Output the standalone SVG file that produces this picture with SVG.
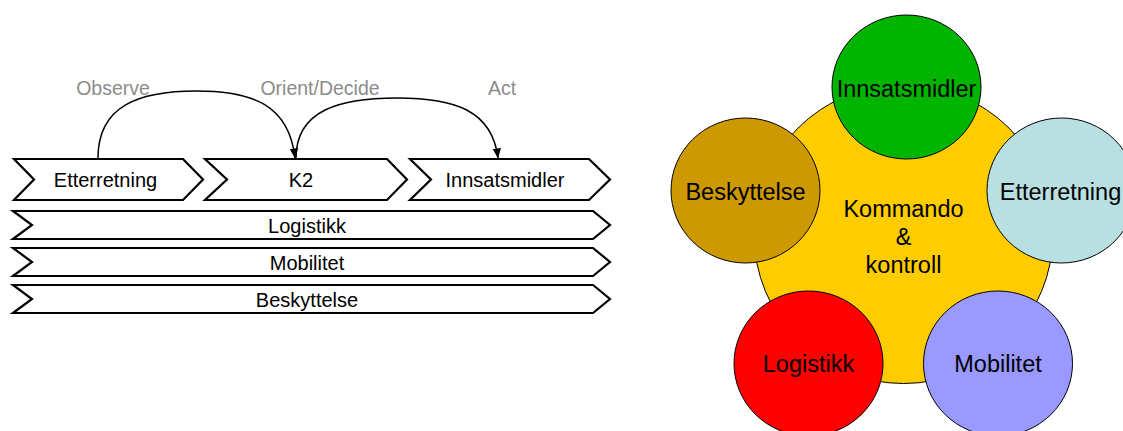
<svg xmlns="http://www.w3.org/2000/svg" width="1123" height="431" viewBox="0 0 1123 431">
  <style>
    .chev { fill: #ffffff; stroke: #000000; stroke-width: 2.2; stroke-linejoin: miter; }
    .lbl { font-family: "Liberation Sans", Arial, sans-serif; font-size: 20px; fill: #000000; text-anchor: middle; }
    .phase { font-family: "Liberation Sans", Arial, sans-serif; font-size: 19.5px; fill: #8c8c8c; text-anchor: middle; }
    .flow { fill: none; stroke: #000000; stroke-width: 1.5; }
    .disc { stroke: #000000; stroke-width: 1; }
    .ctext { font-family: "Liberation Sans", Arial, sans-serif; font-size: 23.5px; fill: #000000; text-anchor: middle; }
  </style>
  <defs>
    <marker id="arrow" viewBox="0 0 10 10" refX="9.5" refY="5" markerWidth="10" markerHeight="10" markerUnits="userSpaceOnUse" orient="auto">
      <path d="M0,0.8 L10,5 L0,9.2 Z" fill="#000000"/>
    </marker>
  </defs>

  <rect width="1123" height="431" fill="#ffffff"/>

  <!-- OODA phase labels -->
  <g id="phases">
    <text class="phase" x="113" y="94.5">Observe</text>
    <text class="phase" x="320" y="94.5">Orient/Decide</text>
    <text class="phase" x="502" y="94.5">Act</text>
  </g>

  <!-- Process chain, top row -->
  <g id="chev-etterretning">
    <polygon class="chev" points="14,159 183,159 203,179.5 183,200 14,200 34,179.5"/>
    <text class="lbl" x="105.5" y="187">Etterretning</text>
  </g>
  <g id="chev-k2">
    <polygon class="chev" points="205,159 387,159 407,179.5 387,200 205,200 227,179.5"/>
    <text class="lbl" x="301" y="187">K2</text>
  </g>
  <g id="chev-innsatsmidler">
    <polygon class="chev" points="410,159 589,159 610,179.5 589,200 410,200 431,179.5"/>
    <text class="lbl" x="505" y="187">Innsatsmidler</text>
  </g>

  <!-- Supporting functions -->
  <g id="chev-logistikk">
    <polygon class="chev" points="13,211 593,211 610,225 593,239 13,239 32,225"/>
    <text class="lbl" x="307" y="232.5">Logistikk</text>
  </g>
  <g id="chev-mobilitet">
    <polygon class="chev" points="13,248 593,248 610,262 593,276 13,276 32,262"/>
    <text class="lbl" x="307" y="269.5">Mobilitet</text>
  </g>
  <g id="chev-beskyttelse">
    <polygon class="chev" points="13,285 593,285 610,299 593,313 13,313 32,299"/>
    <text class="lbl" x="307" y="306.5">Beskyttelse</text>
  </g>

  <!-- Flow arcs between steps -->
  <g id="connectors">
    <path class="flow" marker-end="url(#arrow)" d="M98,158 C98,105 140,91 196.5,91 C253,91 289,105 295,158"/>
    <path class="flow" marker-end="url(#arrow)" d="M296,158 C296,110 340,98 397,98 C454,98 492,110 498,158"/>
  </g>

  <!-- Command & control hub -->
  <g id="hub">
    <circle class="disc" cx="903.5" cy="234" r="149.5" fill="#ffcc00"/>
    <text class="ctext" x="903.5" y="216.5">Kommando</text>
    <text class="ctext" x="903.5" y="245">&amp;</text>
    <text class="ctext" x="903.5" y="273">kontroll</text>
  </g>
  <g id="c-innsatsmidler">
    <ellipse class="disc" cx="906.5" cy="87" rx="74.5" ry="72" fill="#00b400"/>
    <text class="ctext" x="906.5" y="97">Innsatsmidler</text>
  </g>
  <g id="c-beskyttelse">
    <ellipse class="disc" cx="745.5" cy="190.5" rx="74.5" ry="72.5" fill="#cc9900"/>
    <text class="ctext" x="745.5" y="200">Beskyttelse</text>
  </g>
  <g id="c-etterretning">
    <ellipse class="disc" cx="1061.5" cy="190.5" rx="74.5" ry="72.5" fill="#b8e0e2"/>
    <text class="ctext" x="1060.5" y="200">Etterretning</text>
  </g>
  <g id="c-logistikk">
    <ellipse class="disc" cx="808.5" cy="363.5" rx="74.5" ry="72.5" fill="#ff0000"/>
    <text class="ctext" x="808.5" y="372">Logistikk</text>
  </g>
  <g id="c-mobilitet">
    <ellipse class="disc" cx="998" cy="363.5" rx="74.5" ry="72.5" fill="#9999ff"/>
    <text class="ctext" x="998" y="372">Mobilitet</text>
  </g>
</svg>
